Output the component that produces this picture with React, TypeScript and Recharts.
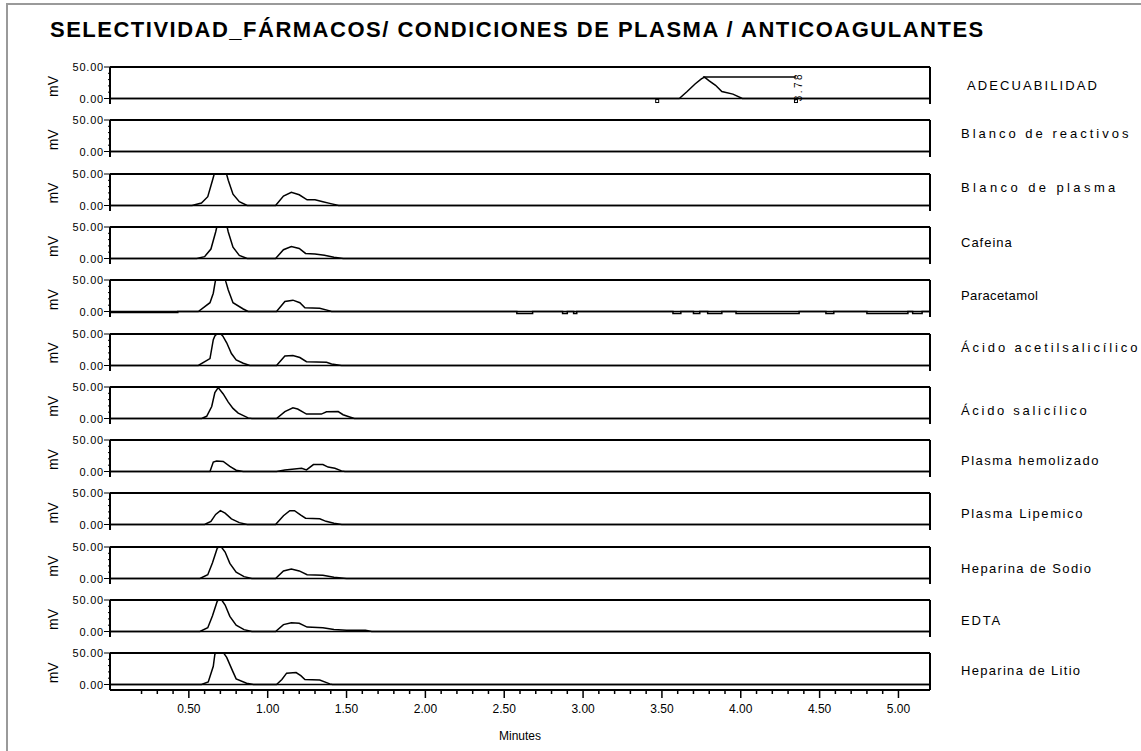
import React from "react";
import { LineChart, Line, XAxis, YAxis, ReferenceLine, ReferenceDot } from "recharts";

const TITLE = "SELECTIVIDAD_FÁRMACOS/ CONDICIONES DE PLASMA / ANTICOAGULANTES";

const sampleNames = [
  "ADECUABILIDAD",
  "Blanco de reactivos",
  "Blanco de plasma",
  "Cafeina",
  "Paracetamol",
  "Ácido acetilsalicílico",
  "Ácido salicílico",
  "Plasma hemolizado",
  "Plasma Lipemico",
  "Heparina de Sodio",
  "EDTA",
  "Heparina de Litio",
];

const xMajorTicks = [0.5, 1, 1.5, 2, 2.5, 3, 3.5, 4, 4.5, 5];
const xMajorLabels = ["0.50", "1.00", "1.50", "2.00", "2.50", "3.00", "3.50", "4.00", "4.50", "5.00"];
const xMinorTicks = [
  0.2, 0.3, 0.4, 0.6, 0.7, 0.8, 0.9, 1.1, 1.2, 1.3, 1.4, 1.6, 1.7, 1.8, 1.9, 2.1, 2.2, 2.3, 2.4,
  2.6, 2.7, 2.8, 2.9, 3.1, 3.2, 3.3, 3.4, 3.6, 3.7, 3.8, 3.9, 4.1, 4.2, 4.3, 4.4, 4.6, 4.7, 4.8, 4.9,
];
const yTicks = [0, 10, 20, 30, 40, 50];
const yMajorLabels: Record<number, string> = { 0: "0.00", 50: "50.00" };

// retention time annotation on the system suitability run
const adecPeakLabel = "3.78";
const adecPeakTime = 3.76;
const adecLabelTime = 4.35;
const adecLabelMv = 34;
const adecEventTimes = [3.47, 4.35];

// traces: time (min) / signal (mV)
const adecuabilidadT = [0, 3.61, 3.66, 3.71, 3.75, 3.77, 3.8, 3.84, 3.88, 3.95, 4.01, 5.2];
const adecuabilidadMv = [0, 0, 11, 23, 31, 34, 28, 21, 11, 7, 0, 0];

const blancoReactivosT = [0, 5.2];
const blancoReactivosMv = [0, 0];

const blancoPlasmaT = [0, 0.52, 0.58, 0.62, 0.65, 0.7, 0.75, 0.78, 0.82, 0.87, 1.05, 1.1, 1.15, 1.2, 1.25, 1.3, 1.35, 1.4, 1.45, 5.2];
const blancoPlasmaMv = [0, 0, 4, 14, 40, 85, 40, 18, 6, 0, 0, 15, 21, 17, 9, 9, 6, 3, 0, 0];

const cafeinaT = [0, 0.55, 0.6, 0.64, 0.67, 0.71, 0.75, 0.78, 0.82, 0.87, 1.05, 1.1, 1.15, 1.2, 1.24, 1.3, 1.36, 1.42, 1.48, 5.2];
const cafeinaMv = [0, 0, 3, 15, 42, 85, 42, 18, 5, 0, 0, 14, 19, 16, 8, 7, 5, 2, 0, 0];

const paracetamolT = [
  0, 0.43, 0.43, 0.56, 0.634, 0.655, 0.665, 0.7, 0.735, 0.75, 0.78, 0.845, 0.876, 1.056, 1.109, 1.16,
  1.204, 1.236, 1.33, 1.394, 1.405,
  2.58, 2.58, 2.68, 2.68, 2.87, 2.87, 2.9, 2.9, 2.94, 2.94, 2.96, 2.96, 3.57, 3.57, 3.62, 3.62,
  3.7, 3.7, 3.74, 3.74, 3.79, 3.79, 3.88, 3.88, 3.97, 3.97, 4.37, 4.37, 4.54, 4.54, 4.59, 4.59,
  4.8, 4.8, 5.06, 5.06, 5.09, 5.09, 5.15, 5.15, 5.2,
];
const paracetamolMv = [
  -1.5, -1.5, 0, 0, 14, 29, 44, 90, 47, 34, 14, 4, 0, 0, 16, 18, 14, 6, 5, 1, 0,
  0, -3, -3, 0, 0, -3, -3, 0, 0, -3, -3, 0, 0, -3, -3, 0, 0, -3, -3, 0, 0, -3, -3, 0,
  0, -3, -3, 0, 0, -3, -3, 0, 0, -3, -3, 0, 0, -3, -3, 0, 0,
];

const acetilT = [0, 0.56, 0.634, 0.655, 0.665, 0.69, 0.715, 0.74, 0.77, 0.8, 0.845, 0.887, 1.056, 1.109, 1.16, 1.204, 1.246, 1.373, 1.405, 1.468, 5.2];
const acetilMv = [0, 0, 11, 41, 47, 53, 47, 36, 19, 9, 3.5, 0, 0, 15, 16, 12.6, 6, 5, 2.5, 0, 0];

const salicilicoT = [0, 0.581, 0.613, 0.645, 0.665, 0.686, 0.718, 0.75, 0.78, 0.813, 0.876, 0.9, 1.056, 1.109, 1.16, 1.19, 1.246, 1.34, 1.373, 1.447, 1.478, 1.52, 1.55, 5.2];
const salicilicoMv = [0, 0, 3.5, 19, 41, 49, 39, 26, 16, 8.6, 1, 0, 0, 11, 17, 15, 7, 7, 10.6, 11, 6, 2.5, 0, 0];

const hemolizadoT = [0, 0.634, 0.655, 0.676, 0.718, 0.76, 0.8, 0.845, 1.056, 1.109, 1.215, 1.246, 1.29, 1.35, 1.383, 1.426, 1.468, 1.49, 5.2];
const hemolizadoMv = [0, 0, 15, 16.7, 16, 8, 2, 0, 0, 2.5, 5, 2.5, 11, 11, 7, 5, 1, 0, 0];

const lipemicoT = [0, 0.6, 0.64, 0.67, 0.7, 0.73, 0.77, 0.82, 0.87, 1.05, 1.1, 1.14, 1.17, 1.21, 1.24, 1.33, 1.37, 1.42, 1.47, 5.2];
const lipemicoMv = [0, 0, 5, 16, 22, 18, 9, 3, 0, 0, 14, 22, 22, 15, 10, 9, 5, 2, 0, 0];

const sodioT = [0, 0.57, 0.62, 0.65, 0.68, 0.7, 0.73, 0.76, 0.8, 0.85, 0.9, 1.05, 1.1, 1.15, 1.2, 1.25, 1.35, 1.42, 1.5, 5.2];
const sodioMv = [0, 0, 6, 25, 48, 52, 42, 24, 10, 3, 0, 0, 12, 15, 12, 6, 5, 2, 0, 0];

const edtaT = [0, 0.57, 0.62, 0.65, 0.68, 0.7, 0.73, 0.76, 0.8, 0.85, 0.9, 1.05, 1.1, 1.15, 1.2, 1.25, 1.35, 1.42, 1.5, 1.62, 1.66, 5.2];
const edtaMv = [0, 0, 6, 25, 48, 53, 42, 24, 10, 3, 0, 0, 11, 14, 13, 7, 6, 3, 2, 2, 0, 0];

const litioT = [0, 0.58, 0.623, 0.655, 0.665, 0.69, 0.715, 0.74, 0.78, 0.8, 0.866, 0.91, 1.056, 1.09, 1.12, 1.18, 1.21, 1.236, 1.33, 1.394, 1.41, 5.2];
const litioMv = [0, 0, 4, 29, 48, 56, 52, 43, 20, 9, 2, 0, 0, 8, 18, 19, 14, 8, 7, 1, 0, 0];

const traces = [
  [adecuabilidadT, adecuabilidadMv],
  [blancoReactivosT, blancoReactivosMv],
  [blancoPlasmaT, blancoPlasmaMv],
  [cafeinaT, cafeinaMv],
  [paracetamolT, paracetamolMv],
  [acetilT, acetilMv],
  [salicilicoT, salicilicoMv],
  [hemolizadoT, hemolizadoMv],
  [lipemicoT, lipemicoMv],
  [sodioT, sodioMv],
  [edtaT, edtaMv],
  [litioT, litioMv],
];

// layout
const W = 1141;
const H = 751;
const PLOT_LEFT = 110;
const PLOT_RIGHT = 930;
const FIRST_TOP = 67;
const STEP = 53.3;
const PANEL_H = 37;
const ZERO_OFF = 31.5;
const Y_MIN = -((PANEL_H - ZERO_OFF) / ZERO_OFF) * 50;
const Y_W = 60;
const M = 8;
const X_AXIS_H = 48;
const FONT = "'Liberation Sans', Arial, sans-serif";

// label baselines / letter spacing
const labelBaselines = [90, 138, 192, 247, 300, 352, 415, 465, 518, 573, 625, 675];
const labelSpacing = [2.1, 3.0, 3.4, 1, 0.4, 2.9, 2.7, 1.5, 1.6, 1.4, 1.8, 1.3];

const renderYTick = (props: any) => {
  const { x, y, payload } = props;
  const label = yMajorLabels[payload.value];
  return (
    <g>
      <line x1={x - (label ? 6 : 2)} x2={x} y1={y} y2={y} stroke="#000" strokeWidth={1} />
      {label && (
        <text x={x - 6} y={y} textAnchor="end" dominantBaseline="central" fontSize={11} letterSpacing={0.8} fontFamily={FONT} fill="#000">
          {label}
        </text>
      )}
    </g>
  );
};

const renderXTick = (props: any) => {
  const { x, y, payload } = props;
  const idx = xMajorTicks.indexOf(payload.value);
  const major = idx >= 0;
  return (
    <g>
      <line x1={x} x2={x} y1={y} y2={y + (major ? 8 : 4)} stroke="#000" strokeWidth={1.5} />
      {major && (
        <text x={x} y={y + 23} textAnchor="middle" fontSize={12} fontFamily={FONT} fill="#000">
          {xMajorLabels[idx]}
        </text>
      )}
    </g>
  );
};

const labelShape = (props: any) => {
  const { cx, cy } = props;
  return (
    <text
      transform={`translate(${cx + 1}, ${cy + 2}) rotate(-90)`}
      textAnchor="middle"
      dominantBaseline="central"
      fontSize={10}
      letterSpacing={2.5}
      fontFamily={FONT}
      fill="#000"
    >
      {adecPeakLabel}
    </text>
  );
};

const eventShape = (props: any) => {
  const { cx, cy } = props;
  return <rect x={cx - 1.5} y={cy - 1.5} width={3} height={3} fill="none" stroke="#000" strokeWidth={1} />;
};

function Panel({ index }: { index: number }) {
  const [times, values] = traces[index];
  const data = times.map((t, i) => ({ t, mv: values[i] }));
  const last = index === traces.length - 1;
  const xh = last ? X_AXIS_H : 0;
  const top = FIRST_TOP + index * STEP;
  return (
    <div style={{ position: "absolute", left: 0, top: top - M }}>
      <LineChart
        width={W}
        height={M + PANEL_H + xh + 4}
        data={data}
        margin={{ top: M, right: W - PLOT_RIGHT, bottom: 4, left: PLOT_LEFT - Y_W }}
      >
        <XAxis
          dataKey="t"
          type="number"
          domain={[0, 5.2]}
          allowDataOverflow
          ticks={last ? [...xMinorTicks, ...xMajorTicks].sort((a, b) => a - b) : []}
          tick={last ? renderXTick : false}
          tickLine={false}
          tickSize={0}
          tickMargin={0}
          interval={0}
          height={xh}
          axisLine={{ stroke: "#000", strokeWidth: 2 }}
        />
        <YAxis
          type="number"
          domain={[Y_MIN, 50]}
          allowDataOverflow
          ticks={yTicks}
          tick={renderYTick}
          tickLine={false}
          tickSize={0}
          tickMargin={0}
          interval={0}
          width={Y_W}
          axisLine={{ stroke: "#000", strokeWidth: 2 }}
        />
        <ReferenceLine y={50} stroke="#000" strokeWidth={2} />
        <ReferenceLine x={5.2} stroke="#000" strokeWidth={2} />
        <ReferenceLine y={0} stroke="#000" strokeWidth={1.5} />
        {index === 0 && (
          <ReferenceLine
            segment={[
              { x: adecPeakTime, y: adecLabelMv },
              { x: adecLabelTime, y: adecLabelMv },
            ]}
            stroke="#000"
            strokeWidth={1.5}
          />
        )}
        {index === 0 && <ReferenceDot x={adecLabelTime + 0.01} y={22} shape={labelShape} />}
        {index === 0 && <ReferenceDot x={adecEventTimes[0]} y={-4} shape={eventShape} />}
        {index === 0 && <ReferenceDot x={adecEventTimes[1]} y={-4} shape={eventShape} />}
        <Line dataKey="mv" type="linear" stroke="#000" strokeWidth={1.5} dot={false} isAnimationActive={false} />
      </LineChart>
    </div>
  );
}

export default function App() {
  return (
    <div style={{ position: "absolute", left: 0, top: 0, width: W, height: H, overflow: "hidden", background: "#fff" }}>
      <div
        style={{
          position: "absolute",
          left: 6,
          top: 3,
          width: W,
          height: H,
          borderLeft: "2px solid #9a9a9a",
          borderTop: "2px solid #9a9a9a",
        }}
      />
      {traces.map((_, i) => (
        <Panel key={sampleNames[i]} index={i} />
      ))}
      <svg width={W} height={H} style={{ position: "absolute", left: 0, top: 0, pointerEvents: "none" }}>
        <text x={50} y={37} fontSize={22} fontWeight="bold" letterSpacing={1.5} fontFamily={FONT} fill="#000">
          {TITLE}
        </text>
        {sampleNames.map((name, i) => {
          const top = FIRST_TOP + i * STEP;
          return (
            <g key={name}>
              <text
                transform={`translate(53, ${top + 19.5}) rotate(-90)`}
                textAnchor="middle"
                dominantBaseline="central"
                fontSize={14}
                fontFamily={FONT}
                fill="#000"
              >
                mV
              </text>
              <text
                x={i === 0 ? 967 : 961}
                y={labelBaselines[i]}
                fontSize={13}
                letterSpacing={labelSpacing[i]}
                fontFamily={FONT}
                fill="#000"
              >
                {name}
              </text>
            </g>
          );
        })}
        <text x={(PLOT_LEFT + PLOT_RIGHT) / 2} y={740} textAnchor="middle" fontSize={12} fontFamily={FONT} fill="#000">
          Minutes
        </text>
      </svg>
    </div>
  );
}
